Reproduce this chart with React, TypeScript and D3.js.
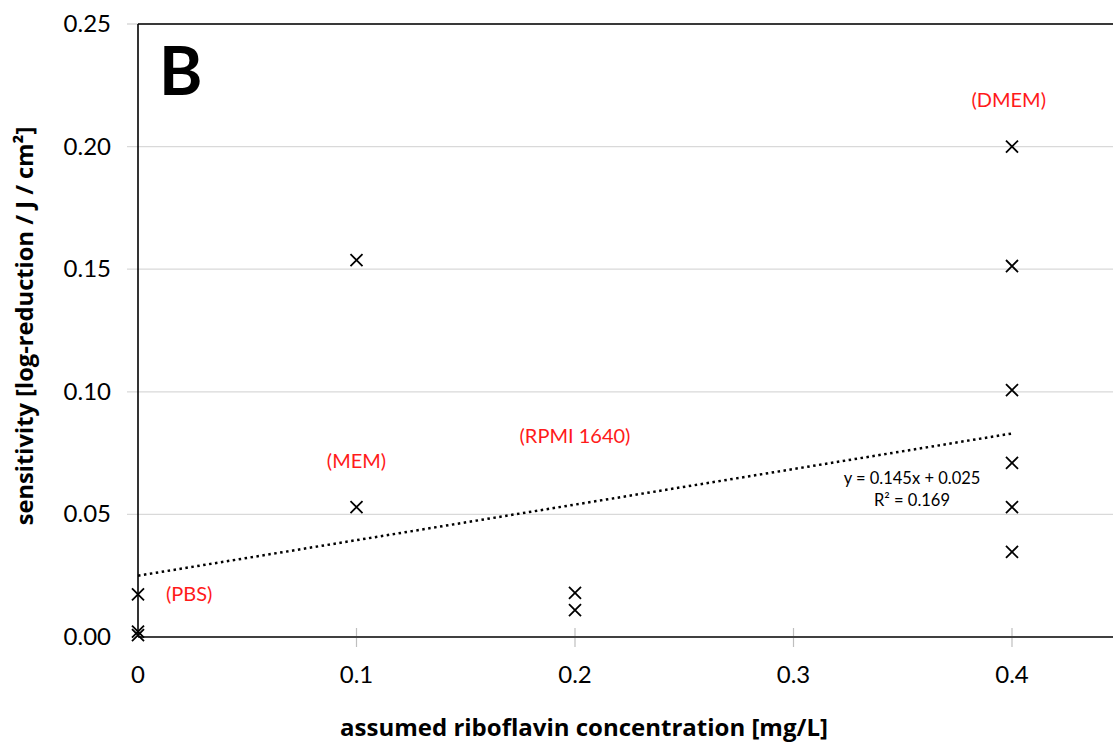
import React, { useRef, useEffect } from 'react';
import * as d3 from 'd3';

// riboflavin concentration (mg/L) per medium and measured sensitivity
const pointsX = [0, 0, 0, 0.1, 0.1, 0.2, 0.2, 0.4, 0.4, 0.4, 0.4, 0.4, 0.4];
const pointsY = [0.0174, 0.0022, 0.0008, 0.1537, 0.053, 0.018, 0.011, 0.2, 0.1513, 0.1007, 0.071, 0.053, 0.0347];

const mediaNames = ['(PBS)', '(MEM)', '(RPMI 1640)', '(DMEM)'];
const mediaX = [0.0128, 0.1, 0.2, 0.3985];
const mediaY = [0.0148, 0.069, 0.079, 0.216];

const trendSlope = 0.145;
const trendIntercept = 0.025;
const trendRange = [0, 0.4];

const xTicks = [0, 0.1, 0.2, 0.3, 0.4];
const yTicks = [0, 0.05, 0.1, 0.15, 0.2, 0.25];

const W = 1113;
const H = 744;

const App = () => {
  const ref = useRef<SVGSVGElement>(null);

  useEffect(() => {
    const svg = d3.select(ref.current);
    svg.selectAll('*').remove();

    const font = 'Lato, "Open Sans", sans-serif';
    const titleFont = '"Open Sans", Lato, sans-serif';

    const x = d3.scaleLinear().domain([0, 0.5]).range([138, 1230.5]);
    const y = d3.scaleLinear().domain([0, 0.25]).range([637, 24]);

    // horizontal gridlines (with small ticks to the left of the axis)
    svg.append('g')
      .selectAll('line')
      .data(yTicks.slice(1))
      .join('line')
      .attr('x1', 127)
      .attr('x2', W)
      .attr('y1', d => y(d))
      .attr('y2', d => y(d))
      .attr('stroke', '#d9d9d9')
      .attr('stroke-width', 1.3);

    // x ticks crossing the axis
    svg.append('g')
      .selectAll('line')
      .data(xTicks.slice(1))
      .join('line')
      .attr('x1', d => x(d))
      .attr('x2', d => x(d))
      .attr('y1', y(0) - 9)
      .attr('y2', y(0) + 10)
      .attr('stroke', '#bfbfbf')
      .attr('stroke-width', 1.2);

    // frame: top border, y axis, x axis
    svg.append('line')
      .attr('x1', x(0)).attr('x2', W)
      .attr('y1', y(0.25)).attr('y2', y(0.25))
      .attr('stroke', '#000').attr('stroke-width', 1.6);
    svg.append('line')
      .attr('x1', x(0)).attr('x2', x(0))
      .attr('y1', y(0.25)).attr('y2', y(0))
      .attr('stroke', '#000').attr('stroke-width', 1.6);
    svg.append('line')
      .attr('x1', x(0)).attr('x2', W)
      .attr('y1', y(0)).attr('y2', y(0))
      .attr('stroke', '#404040').attr('stroke-width', 2);

    // tick labels
    svg.append('g')
      .selectAll('text')
      .data(yTicks)
      .join('text')
      .attr('x', 111)
      .attr('y', d => y(d) + 8)
      .attr('text-anchor', 'end')
      .attr('font-family', font)
      .attr('font-size', 24)
      .attr('fill', '#000')
      .text(d => d3.format('.2f')(d));

    svg.append('g')
      .selectAll('text')
      .data(xTicks)
      .join('text')
      .attr('x', d => x(d))
      .attr('y', 683)
      .attr('text-anchor', 'middle')
      .attr('font-family', font)
      .attr('font-size', 24)
      .attr('fill', '#000')
      .text(d => d3.format('')(d));

    // trendline
    const line = d3.line<number>()
      .x(d => x(d))
      .y(d => y(trendSlope * d + trendIntercept));
    svg.append('path')
      .datum(trendRange)
      .attr('d', line)
      .attr('fill', 'none')
      .attr('stroke', '#000')
      .attr('stroke-width', 2.5)
      .attr('stroke-dasharray', '2.5 3.5');

    // points
    const sym = d3.symbol(d3.symbolX, 96);
    svg.append('g')
      .selectAll('path')
      .data(pointsX.map((px, i) => [px, pointsY[i]]))
      .join('path')
      .attr('transform', d => `translate(${x(d[0])},${y(d[1])})`)
      .attr('d', sym)
      .attr('fill', 'none')
      .attr('stroke', '#000')
      .attr('stroke-width', 1.8);

    // media labels
    svg.append('g')
      .selectAll('text')
      .data(mediaNames)
      .join('text')
      .attr('x', (d, i) => x(mediaX[i]))
      .attr('y', (d, i) => y(mediaY[i]))
      .attr('text-anchor', (d, i) => (i === 0 ? 'start' : 'middle'))
      .attr('font-family', font)
      .attr('font-size', 20)
      .attr('fill', '#ff1a1a')
      .text(d => d);

    // equation
    const eq = svg.append('text')
      .attr('font-family', font)
      .attr('font-size', 16.5)
      .attr('text-anchor', 'middle')
      .attr('fill', '#000');
    eq.append('tspan').attr('x', 912).attr('y', 484).text('y = 0.145x + 0.025');
    eq.append('tspan').attr('x', 912).attr('y', 506).text('R² = 0.169');

    // panel letter
    svg.append('text')
      .attr('x', 159)
      .attr('y', 95)
      .attr('font-family', font)
      .attr('font-weight', 'bold')
      .attr('font-size', 66)
      .attr('fill', '#000')
      .text('B');

    // axis titles
    svg.append('text')
      .attr('x', 584)
      .attr('y', 736)
      .attr('text-anchor', 'middle')
      .attr('font-family', titleFont)
      .attr('font-weight', 'bold')
      .attr('font-size', 24)
      .attr('fill', '#000')
      .text('assumed riboflavin concentration [mg/L]');

    svg.append('text')
      .attr('transform', 'translate(33,326) rotate(-90)')
      .attr('text-anchor', 'middle')
      .attr('font-family', titleFont)
      .attr('font-weight', 'bold')
      .attr('font-size', 23.7)
      .attr('fill', '#000')
      .text('sensitivity [log-reduction / J / cm²]');
  }, []);

  return (
    <svg
      ref={ref}
      width={W}
      height={H}
      style={{ position: 'absolute', left: 0, top: 0, background: '#fff' }}
    />
  );
};

export default App;
